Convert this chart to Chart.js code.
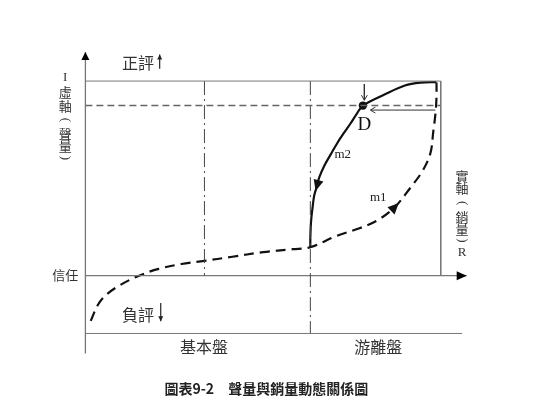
<!DOCTYPE html>
<html><head><meta charset="utf-8">
<script src="https://cdn.jsdelivr.net/npm/chart.js@4"></script>
<style>html,body{margin:0;padding:0;background:#fff;}canvas{display:block;}</style>
</head><body>
<canvas id="c" width="537" height="420"></canvas>
<script>
// ---- data (x = 實軸 銷量 R, y = 虛軸 聲量 I) ----
const xRange = [-22.85, 125.9];
const yRange = [-72.0, 139.5];
const axisY = [{x:0,y:-40},{x:0,y:114.9}];
const axisX = [{x:0,y:0},{x:107.3,y:0}];
const topLine = [{x:0,y:100},{x:100,y:100}];
const rightLine = [{x:100,y:100},{x:100,y:0}];
const bottomLine = [{x:0,y:-29.7},{x:106,y:-29.7}];
const dLevel = [{x:0,y:87.4},{x:100,y:87.4}];
const zone1Line = [{x:33.5,y:100},{x:33.5,y:0}];
const zone2Line = [{x:63.3,y:100},{x:63.3,y:-29.7}];
const m1 = [
  {x:1.5,y:-23.2},{x:3.5,y:-15.1},{x:5.7,y:-10.1},{x:9.6,y:-5.0},{x:15.1,y:0},
  {x:20.6,y:3.5},{x:27.0,y:6.0},{x:33.4,y:7.6},{x:40.9,y:9.6},{x:50.0,y:12.1},
  {x:58.3,y:13.6},{x:63.3,y:14.6},{x:70.8,y:20.5},{x:76.9,y:24.2},{x:82.4,y:28.7},
  {x:87.1,y:35.3},{x:91.5,y:45.3},{x:94.9,y:53.9},{x:97.1,y:63.0},{x:97.9,y:74.1},
  {x:98.5,y:83.1},{x:98.8,y:91.7},{x:98.8,y:99.2}
];
const m1ArrowIndex = 15;
const m2 = [
  {x:98.8,y:99.5},{x:94.3,y:99.2},{x:89.9,y:97.7},{x:84.3,y:93.2},{x:78.1,y:87.4},
  {x:76.4,y:83.3},{x:74.6,y:78.2},{x:72.7,y:73.2},{x:70.9,y:68.2},{x:69.0,y:62.2},
  {x:67.2,y:56.4},{x:65.8,y:50.5},{x:65.2,y:46.3},{x:64.4,y:41.3},{x:63.9,y:34.6},
  {x:63.5,y:27.9},{x:63.3,y:19.5},{x:63.3,y:14.6}
];
const m2ArrowIndex = 12;
const pointD = [{x:78.1,y:87.4}];
const arrowToD_down = [{x:78.5,y:98.5},{x:78.5,y:90.2}];
const arrowToD_left = [{x:98.5,y:85.1},{x:80.2,y:85.1}];
const arrowPositive = [{x:20.9,y:106.3},{x:20.9,y:113.6}];
const arrowNegative = [{x:21.2,y:-14.1},{x:21.2,y:-23.4}];

const posLabel = '正評';
const negLabel = '負評';
const trustLabel = '信任';
const zoneLabels = ['基本盤','游離盤'];
const yAxisTitle = ['I','虛','軸','(','聲','量',')'];
const xAxisTitle = ['實','軸','(','銷','量',')','R'];
const pointLabel = 'D';
const curveLabels = ['m1','m2'];
const caption = '圖表9-2　聲量與銷量動態關係圖';

// ---- helpers ----
const GRAY = '#6f6f6f', INK = '#111';
function seg(data, opts){ return Object.assign({data, showLine:true, pointRadius:0, borderWidth:1, borderColor:GRAY, tension:0, fill:false}, opts||{}); }

const cjk = '"Noto Sans CJK TC","Noto Sans CJK SC",sans-serif';
const serif = '"Liberation Serif","DejaVu Serif",serif';

const labelPlugin = {
  id:'labels',
  afterDatasetsDraw(chart){
    const ctx = chart.ctx, xs = chart.scales.x, ys = chart.scales.y;
    // arrowheads
    chart.data.datasets.forEach((ds,i)=>{
      if(!ds.arrowHeads) return;
      const pts = chart.getDatasetMeta(i).data;
      ds.arrowHeads.forEach(a=>{
        let tip, ang;
        if(a.at === 'end'){
          const p = pts[pts.length-1], q = pts[pts.length-2];
          ang = Math.atan2(p.y-q.y, p.x-q.x); tip = {x:p.x, y:p.y};
        } else {
          const p = pts[a.at], q = pts[a.at-1], r = pts[a.at+1];
          ang = Math.atan2(r.y-q.y, r.x-q.x);
          tip = {x:p.x + Math.cos(ang)*a.len/2, y:p.y + Math.sin(ang)*a.len/2};
        }
        ctx.save();
        ctx.translate(tip.x, tip.y); ctx.rotate(ang);
        ctx.beginPath();
        ctx.moveTo(-a.len, -a.w); ctx.lineTo(0,0); ctx.lineTo(-a.len, a.w);
        if(a.filled){ ctx.closePath(); ctx.fillStyle = a.color; ctx.fill(); }
        else { ctx.strokeStyle = a.color; ctx.lineWidth = 1; ctx.stroke(); }
        ctx.restore();
      });
    });
    // texts
    const put = (t, x, y, font, color, rot) => {
      ctx.save();
      ctx.font = font; ctx.fillStyle = color || '#222';
      ctx.textAlign = 'center'; ctx.textBaseline = 'middle';
      ctx.translate(xs.getPixelForValue(x), ys.getPixelForValue(y));
      if(rot) ctx.rotate(rot);
      ctx.fillText(t, 0, 0);
      ctx.restore();
    };
    put(posLabel, 14.8, 109.3, '16px '+cjk, '#333');
    put(negLabel, 14.8, -20.2, '16px '+cjk, '#333');
    put(trustLabel, -5.7, 0.5, '13px '+cjk, '#333');
    put(zoneLabels[0], 33.4, -36.8, '16px '+cjk, '#333');
    put(zoneLabels[1], 82.4, -36.8, '16px '+cjk, '#333');
    const yTitleY = [102, 94.2, 87.1, 80.1, 73.0, 66.5, 60.5];
    yAxisTitle.forEach((t,k)=>{
      const isParen = (t==='('||t===')');
      const f = (t==='I' || isParen) ? '13px '+serif : '13px '+cjk;
      put(t, -5.7, yTitleY[k], f, '#333', isParen ? Math.PI/2 : 0);
    });
    const xTitleY = [51.4, 44.8, 37.3, 30.2, 24.2, 18.1, 12.1];
    xAxisTitle.forEach((t,k)=>{
      const isParen = (t==='('||t===')');
      const f = (t==='R' || isParen) ? '13px '+serif : '13px '+cjk;
      put(t, 106.0, xTitleY[k], f, '#333', isParen ? Math.PI/2 : 0);
    });
    put(pointLabel, 78.5, 77.6, '19px '+serif, INK);
    put(curveLabels[0], 82.4, 40.3, '13px '+serif, '#222');
    put(curveLabels[1], 72.4, 62.0, '13px '+serif, '#222');
    put(caption, 50.9, -57.9, 'bold 14px '+cjk, '#222');
  }
};

new Chart(document.getElementById('c'), {
  type:'scatter',
  data:{ datasets:[
    seg(topLine, {borderColor:'#777'}),
    seg(rightLine, {borderColor:'#777'}),
    seg(bottomLine, {borderColor:'#777'}),
    seg(dLevel, {borderColor:'#666', borderWidth:1.5, borderDash:[7,4]}),
    seg(zone1Line, {borderColor:'#444', borderDash:[14,4,2,4]}),
    seg(zone2Line, {borderColor:'#444', borderDash:[14,4,2,4]}),
    seg(axisY, {borderColor:'#777', borderWidth:1.3, arrowHeads:[{at:'end', len:8, w:4, filled:true, color:'#000'}]}),
    seg(axisX, {borderColor:'#777', borderWidth:1.3, arrowHeads:[{at:'end', len:10, w:4.5, filled:true, color:'#000'}]}),
    seg(m1, {borderColor:INK, borderWidth:2.2, borderDash:[10,6], tension:0.35, arrowHeads:[{at:m1ArrowIndex, len:11, w:5, filled:true, color:INK}]}),
    seg(m2, {borderColor:INK, borderWidth:2.2, tension:0.35, arrowHeads:[{at:m2ArrowIndex, len:11, w:5, filled:true, color:INK}]}),
    seg(arrowToD_down, {borderColor:'#333', arrowHeads:[{at:'end', len:5, w:3, filled:false, color:'#333'}]}),
    seg(arrowToD_left, {borderColor:'#333', arrowHeads:[{at:'end', len:5, w:3, filled:false, color:'#333'}]}),
    seg(arrowPositive, {borderColor:'#222', borderWidth:1.2, arrowHeads:[{at:'end', len:5, w:2.5, filled:true, color:'#222'}]}),
    seg(arrowNegative, {borderColor:'#222', borderWidth:1.2, arrowHeads:[{at:'end', len:5, w:2.5, filled:true, color:'#222'}]}),
    {data:pointD, showLine:false, pointRadius:4.2, pointBackgroundColor:INK, pointBorderColor:INK, pointBorderWidth:0}
  ]},
  options:{
    responsive:false, animation:false, events:[],
    layout:{padding:0},
    plugins:{legend:{display:false}, tooltip:{enabled:false}, title:{display:false}},
    scales:{
      x:{type:'linear', min:xRange[0], max:xRange[1], display:false},
      y:{type:'linear', min:yRange[0], max:yRange[1], display:false}
    }
  },
  plugins:[labelPlugin]
});
</script>
</body></html>
